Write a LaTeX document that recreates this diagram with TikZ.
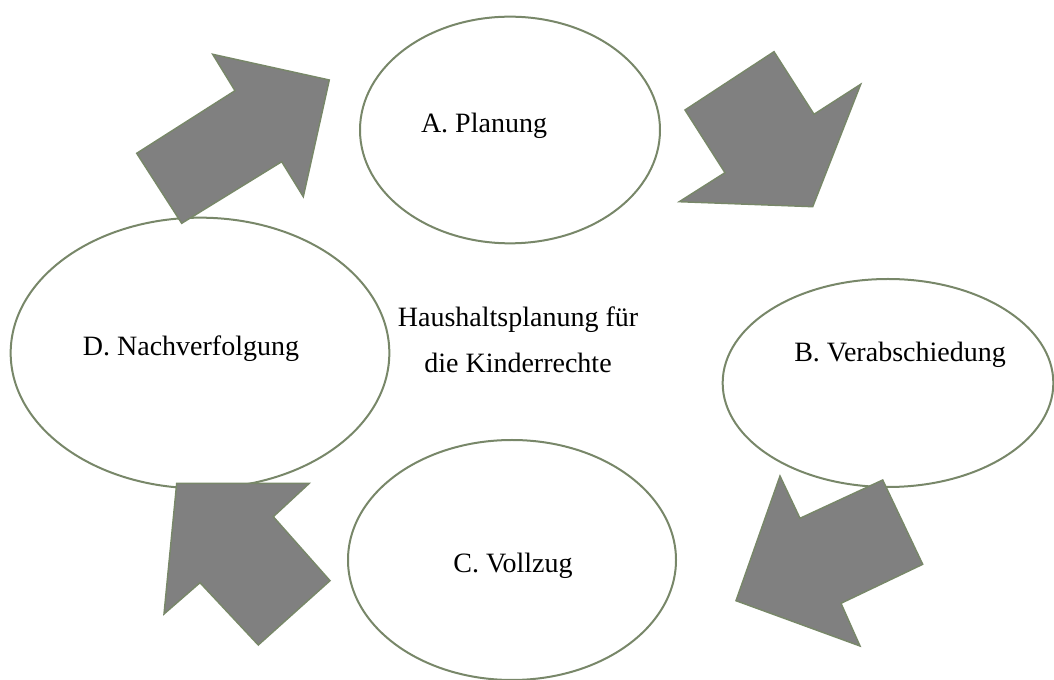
\documentclass[tikz,border=0pt]{standalone}
\usepackage{fontspec}
\setmainfont{Liberation Serif}
\usetikzlibrary{shapes.geometric}

\definecolor{rimgreen}{RGB}{120,135,105}
\definecolor{blockgray}{RGB}{128,128,128}

\tikzset{
    phase/.style={ellipse, draw=rimgreen, line width=1.5pt, inner sep=0pt},
    phasetext/.style={font=\fontsize{21}{25}\selectfont, anchor=base},
    blockarrow/.style={fill=blockgray, draw=rimgreen, line width=1.1pt, line join=miter}
}

\begin{document}
\begin{tikzpicture}[x=0.75pt, y=-0.75pt]
            \useasboundingbox (0, 0) rectangle (1054, 680);

            % the four phases
            \node[phase, minimum width=225pt, minimum height=170pt] (plan) at (510, 130) {};
            \node[phase, minimum width=248pt, minimum height=156pt] (verab) at (888, 383) {};
            \node[phase, minimum width=246pt, minimum height=180pt] (vollz) at (512, 560) {};
            \node[phase, minimum width=284pt, minimum height=203pt] (nachv) at (200, 353) {};

            \node[phasetext] (plantext) at (484, 133) {A. Planung};
            \node[phasetext] (verabtext) at (900, 362) {B. Verabschiedung};
            \node[phasetext] (vollztext) at (513, 573) {C. Vollzug};
            \node[phasetext] (nachvtext) at (191, 356) {D. Nachverfolgung};

            \node[phasetext] (mitteeins) at (518, 327) {Haushaltsplanung für};
            \node[phasetext] (mittezwei) at (518, 373) {die Kinderrechte};

            % block arrows between the phases
            \draw[blockarrow] (136.7, 153.3) -- (181.7, 223.3) -- (281.7, 161.7) -- (303.3, 196.7)
                -- (329.3, 80) -- (212.7, 54.3) -- (235, 90.7) -- cycle;
            \draw[blockarrow] (685, 110) -- (774, 51.7) -- (814, 114.3) -- (860.7, 84.3)
                -- (812.7, 206.7) -- (679.3, 201.7) -- (725, 172.7) -- cycle;
            \draw[blockarrow] (882.7, 480) -- (922.7, 564.3) -- (841, 603.3) -- (860, 646)
                -- (736, 600.7) -- (780, 476) -- (800, 518.3) -- cycle;
            \draw[blockarrow] (176.7, 483.3) -- (309.3, 483.3) -- (273.3, 516.7) -- (330, 580.7)
                -- (258.3, 645) -- (200, 582.7) -- (164, 614) -- cycle;

        \end{tikzpicture}
\end{document}
